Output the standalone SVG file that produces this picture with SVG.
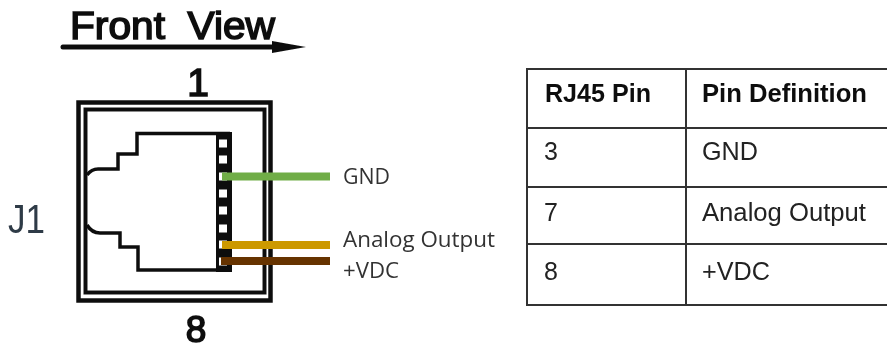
<svg xmlns="http://www.w3.org/2000/svg" width="887" height="350" viewBox="0 0 887 350">
<defs><filter id="soft" x="-5%" y="-5%" width="110%" height="110%"><feGaussianBlur stdDeviation="0.45"/></filter></defs>
<style>
.ln{fill:none;stroke:#111;stroke-linejoin:miter}
.sq{fill:#fff}
.wire{fill:none;stroke-width:8}
.lab{font-family:"Open Sans",sans-serif;font-size:22px;fill:#333}
.tl{stroke:#333;stroke-width:2;fill:none}
.t{font-family:"Liberation Sans",Arial,sans-serif;font-size:25px;fill:#222}
.b{font-weight:bold;fill:#111}
.draw{font-family:"Liberation Sans",Arial,sans-serif;fill:#111;stroke:#111;stroke-width:1.600}
</style>
<rect width="887" height="350" fill="#fff"/>
<g id="title" filter="url(#soft)">
<text class="draw" x="70" y="39" font-size="39" textLength="205" lengthAdjust="spacingAndGlyphs" xml:space="preserve">Front  View</text>
<path d="M63 47H275" class="ln" stroke-width="5" stroke-linecap="round"/>
<path d="M272 41L306 47L272 53Z" fill="#111"/>
</g>
<g id="connector-J1" filter="url(#soft)">
<rect class="ln" x="78.500" y="102.500" width="192" height="198" stroke-width="4.500"/>
<rect class="ln" x="85.500" y="109.500" width="179" height="183" stroke-width="4"/>
<path class="ln" stroke-width="3.500" d="M87 175C90 171 93 169 98 169H118V154H137V133.500H230M87 225C90 230 94 233 100 233H120V247H138V270H230"/>
<rect x="216" y="132" width="16" height="140" fill="#111"/>
<rect class="sq" x="219" y="139.500" width="8" height="8"/>
<rect class="sq" x="219" y="155.500" width="8" height="8"/>
<rect class="sq" x="219" y="172.500" width="8" height="8"/>
<rect class="sq" x="219" y="189.500" width="8" height="8"/>
<rect class="sq" x="219" y="206.500" width="8" height="8"/>
<rect class="sq" x="219" y="224.500" width="8" height="8"/>
<rect class="sq" x="219" y="240.500" width="8" height="8"/>
<rect class="sq" x="219" y="257.500" width="8" height="8"/>
<text class="draw" x="198" y="96" font-size="39" text-anchor="middle">1</text>
<text class="draw" x="196" y="341.500" font-size="37" text-anchor="middle">8</text>
<text x="8" y="233" font-size="41" font-family="Liberation Sans, Arial, sans-serif" fill="#2f3a46" textLength="37" lengthAdjust="spacingAndGlyphs">J1</text>
</g>
<g id="connectors">
<path class="wire" stroke="#70AD47" d="M222 176.500H330"/>
<path class="wire" stroke="#CC9900" d="M222 245H330"/>
<path class="wire" stroke="#663300" d="M221 261H330"/>
</g>
<g id="wire-labels" filter="url(#soft)">
<text class="lab" x="343" y="184" textLength="47" lengthAdjust="spacingAndGlyphs">GND</text>
<text class="lab" x="343" y="247" textLength="152" lengthAdjust="spacingAndGlyphs">Analog Output</text>
<text class="lab" x="343" y="278" textLength="56" lengthAdjust="spacingAndGlyphs">+VDC</text>
</g>
<g id="pin-table" filter="url(#soft)">
<path class="tl" d="M887 69H527V305H887M527 128H887M527 187H887M527 244H887M686 69V305"/>
<text class="t b" x="545" y="102" textLength="106" lengthAdjust="spacingAndGlyphs">RJ45 Pin</text>
<text class="t b" x="702" y="102" textLength="165" lengthAdjust="spacingAndGlyphs">Pin Definition</text>
<text class="t" x="544" y="160">3</text>
<text class="t" x="702" y="160" textLength="56" lengthAdjust="spacingAndGlyphs">GND</text>
<text class="t" x="544" y="221">7</text>
<text class="t" x="702" y="221" textLength="164" lengthAdjust="spacingAndGlyphs">Analog Output</text>
<text class="t" x="544" y="280">8</text>
<text class="t" x="702" y="280" textLength="68" lengthAdjust="spacingAndGlyphs">+VDC</text>
</g>
</svg>
